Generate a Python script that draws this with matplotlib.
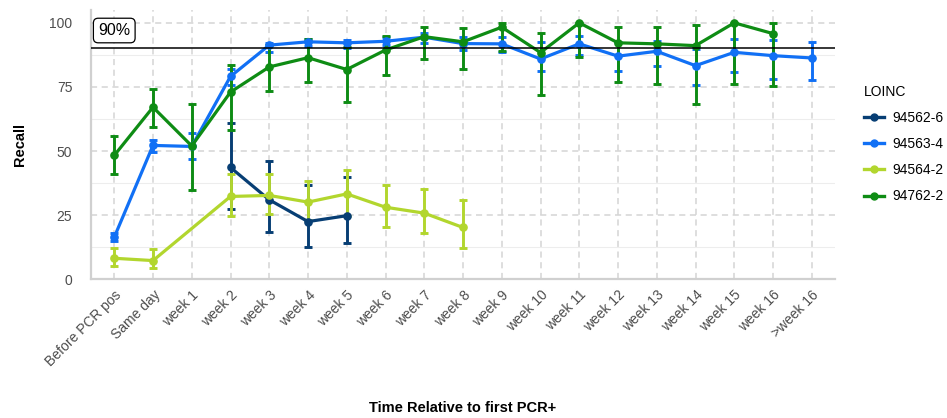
import numpy as np
import matplotlib
matplotlib.use('Agg')
import matplotlib.pyplot as plt
from matplotlib.lines import Line2D

plt.rcParams['font.family'] = ['Liberation Sans', 'DejaVu Sans']

nan = np.nan

CATEGORIES = ['Before PCR pos', 'Same day'] + [f'week {i}' for i in range(1, 17)] + ['>week 16']

SERIES = ['94562-6', '94563-4', '94564-2', '94762-2']
COLORS = ['#073E74', '#1170F5', '#B2D62E', '#0E8C14']

# recall, lower and upper bounds per category (NaN = no data)
REC_94562 = [nan, nan, nan, 43.6, 31.0, 22.5, 24.8] + [nan] * 12
LO_94562 = [nan, nan, nan, 27.5, 18.4, 12.7, 14.0] + [nan] * 12
HI_94562 = [nan, nan, nan, 60.9, 46.2, 36.6, 39.7] + [nan] * 12

REC_94563 = [16.4, 52.2, 51.8, 79.1, 91.3, 92.6, 92.2, 92.8, 94.4, 91.9, 91.8,
             85.9, 91.8, 87.0, 88.9, 83.3, 88.5, 87.2, 86.3]
LO_94563 = [15.0, 49.8, 47.0, 75.9, 88.5, 90.9, 90.0, 91.2, 92.2, 89.3, 88.7,
            81.1, 87.6, 81.1, 83.0, 75.9, 80.9, 78.1, 77.8]
HI_94563 = [18.0, 54.4, 57.0, 82.0, 92.2, 93.5, 93.2, 94.3, 96.0, 94.5, 94.4,
            92.4, 95.0, 92.4, 92.8, 89.6, 93.5, 93.2, 92.4]

REC_94564 = [8.2, 7.3, nan, 32.3, 32.7, 30.1, 33.3, 28.1, 25.8, 20.2] + [nan] * 9
LO_94564 = [5.3, 4.3, nan, 24.7, 25.4, 23.2, 24.7, 20.5, 18.0, 12.3] + [nan] * 9
HI_94564 = [12.1, 11.7, nan, 41.1, 41.0, 38.4, 42.7, 36.8, 35.3, 31.0] + [nan] * 9

REC_94762 = [48.3, 67.1, 52.0, 73.0, 82.8, 86.4, 81.8, 89.4, 94.6, 92.6, 98.3,
             88.4, 100.0, 92.2, 91.8, 91.1, 100.0, 95.8, nan]
LO_94762 = [40.9, 59.2, 35.0, 58.3, 73.4, 76.9, 69.3, 79.5, 85.7, 81.9, 89.1,
            71.7, 86.7, 76.8, 76.2, 68.5, 76.3, 75.5, nan]
HI_94762 = [56.0, 74.3, 68.4, 83.7, 91.3, 93.7, 90.7, 95.0, 98.5, 97.9, 100.0,
            96.2, 100.0, 98.3, 98.3, 99.0, 100.0, 100.0, nan]

RECALL = [REC_94562, REC_94563, REC_94564, REC_94762]
LOWER = [LO_94562, LO_94563, LO_94564, LO_94762]
UPPER = [HI_94562, HI_94563, HI_94564, HI_94762]

THRESHOLD = 90
THRESH_LABEL = '90%'

W, H = 947, 418
fig = plt.figure(figsize=(W / 100, H / 100), dpi=100)
ax = fig.add_axes([91 / W, (H - 279.3) / H, (835 - 91) / W, (279.3 - 10) / H])

x = np.arange(len(CATEGORIES))

# grid: dashed major, solid minor (ggplot-ish)
ax.set_yticks([0, 25, 50, 75, 100])
ax.set_yticks([12.5, 37.5, 62.5, 87.5], minor=True)
ax.set_xticks(x)
ax.grid(which='major', color='#D4D4D4', linestyle=(0, (4, 3)), linewidth=1.1)
ax.grid(which='minor', axis='y', color='#EDEDED', linestyle='-', linewidth=0.8)
ax.set_axisbelow(True)

for rec, lo, hi, col in zip(RECALL, LOWER, UPPER, COLORS):
    rec = np.array(rec, dtype=float)
    lo = np.array(lo, dtype=float)
    hi = np.array(hi, dtype=float)
    m = ~np.isnan(rec)
    ax.errorbar(x[m], rec[m], yerr=[rec[m] - lo[m], hi[m] - rec[m]], fmt='none',
                ecolor=col, elinewidth=2.1, capsize=3, capthick=2.1, zorder=3)
    ax.plot(x[m], rec[m], color=col, linewidth=2.3, marker='o', markersize=5.2,
            zorder=4)

ax.axhline(THRESHOLD, color='black', linewidth=1.1, zorder=5)
ax.text(0, 97, THRESH_LABEL, ha='center', va='center', fontsize=11.5, zorder=6,
        bbox=dict(boxstyle='round,pad=0.3,rounding_size=0.3', facecolor='white',
                  edgecolor='black', linewidth=0.9))

ax.set_xlim(-0.6, len(CATEGORIES) - 0.4)
ax.set_ylim(0, 105)
ax.set_xticklabels(CATEGORIES, rotation=45, ha='right', va='top',
                   rotation_mode='anchor', fontsize=10, color='#4D4D4D')
ax.tick_params(axis='y', labelsize=10, labelcolor='#4D4D4D')
ax.tick_params(which='both', length=0)
ax.tick_params(axis='y', pad=13.5)
ax.tick_params(axis='x', pad=6)

for side in ['top', 'right']:
    ax.spines[side].set_visible(False)
for side in ['left', 'bottom']:
    ax.spines[side].set_color('#D0D0D0')
    ax.spines[side].set_linewidth(1.6)

fig.text(20 / W, 1 - 145 / H, 'Recall', rotation=90, ha='center', va='center',
         fontsize=10.5, fontweight='bold')
fig.text(463 / W, 1 - 408 / H, 'Time Relative to first PCR+', ha='center',
         va='center', fontsize=10.5, fontweight='bold')

handles = [Line2D([0], [0], color=c, linewidth=2.4, marker='o', markersize=5)
           for c in COLORS]
leg = fig.legend(handles, SERIES, title='LOINC', loc='upper left',
                 bbox_to_anchor=(851 / W, 1 - 72 / H), frameon=False,
                 fontsize=10, title_fontsize=10, handlelength=1.5,
                 labelspacing=0.88, handletextpad=0.6, alignment='left')

fig.savefig('out.png', dpi=100)
